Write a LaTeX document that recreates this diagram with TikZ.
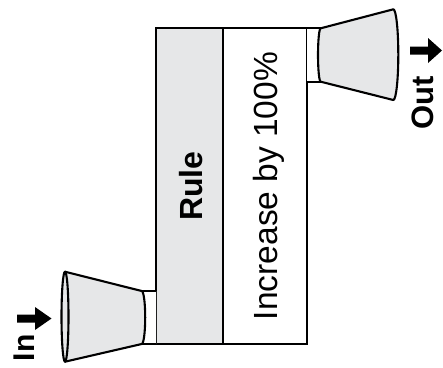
\documentclass[tikz,border=0pt]{standalone}
\usepackage{fontspec}
\setmainfont{Liberation Sans}
\definecolor{funnelgray}{HTML}{E6E7E8}
\begin{document}
\begin{tikzpicture}[x=1pt,y=-1pt,
  outline/.style={draw=black,line width=2.1pt,line join=round},
  boxline/.style={draw=black,line width=1.8pt},
  lbl/.style={rotate=90,anchor=base,inner sep=0pt},
  arrowshape/.style={fill=black}]
\useasboundingbox (0,0) rectangle (443,367);
% main box
\fill[funnelgray] (156,28) rectangle (223,344);
\draw[boxline] (156,28) rectangle (307,344);
\draw[boxline] (223,28) -- (223,344);
% input funnel
\fill[funnelgray] (65,271.7) -- (141.7,291) arc[start angle=90,end angle=-90,x radius=3.5pt,y radius=26.5pt]
  -- (65,361.7) arc[start angle=270,end angle=90,x radius=3.5pt,y radius=45pt] -- cycle;
\fill[white] (141.7,291) -- (156,291) -- (156,344) -- (141.7,344)
  arc[start angle=-90,end angle=90,x radius=3.5pt,y radius=26.5pt] -- cycle;
\draw[boxline] (141.7,291) -- (156,291);
\draw[boxline] (141.7,344) -- (156,344);
\draw[outline] (65,271.7) -- (141.7,291) arc[start angle=90,end angle=-90,x radius=3.5pt,y radius=26.5pt] -- (65,361.7);
\draw[outline] (65,316.7) ellipse [x radius=3.5pt,y radius=45pt];
% output funnel
\fill[funnelgray] (320.7,28.3) -- (393.3,9.3) arc[start angle=90,end angle=-90,x radius=5pt,y radius=45.35pt]
  -- (320.7,81.7) arc[start angle=270,end angle=90,x radius=2.7pt,y radius=26.7pt] -- cycle;
\fill[white] (307,28.3) -- (320.7,28.3) arc[start angle=90,end angle=270,x radius=2.7pt,y radius=26.7pt]
  -- (307,81.7) -- cycle;
\draw[boxline] (307,28.3) -- (320.7,28.3);
\draw[boxline] (307,81.7) -- (320.7,81.7);
\draw[outline] (320.7,28.3) arc[start angle=90,end angle=270,x radius=2.7pt,y radius=26.7pt];
\draw[outline] (320.7,28.3) -- (393.3,9.3) arc[start angle=90,end angle=-90,x radius=5pt,y radius=45.35pt] -- (320.7,81.7);
% arrows
\fill[arrowshape] (17,314.5) -- (35,314.5) -- (35,307) -- (51.5,318.5) -- (35,330) -- (35,322.5) -- (17,322.5) -- cycle;
\fill[arrowshape] (410,46.5) -- (428,46.5) -- (428,38) -- (442,50.5) -- (428,63) -- (428,54.5) -- (410,54.5) -- cycle;
% labels
\node[lbl,font=\fontsize{30}{36}\selectfont\bfseries] (in) at (34.5,348) {In};
\node[lbl,font=\fontsize{31}{37}\selectfont\bfseries] (out) at (433,103) {Out};
\node[lbl,font=\fontsize{32}{38}\selectfont\bfseries] (rule) at (202,186) {Rule};
\node[lbl,font=\fontsize{33.5}{40}\selectfont] (inc) at (277,186) {Increase by 100\%};
\end{tikzpicture}
\end{document}
